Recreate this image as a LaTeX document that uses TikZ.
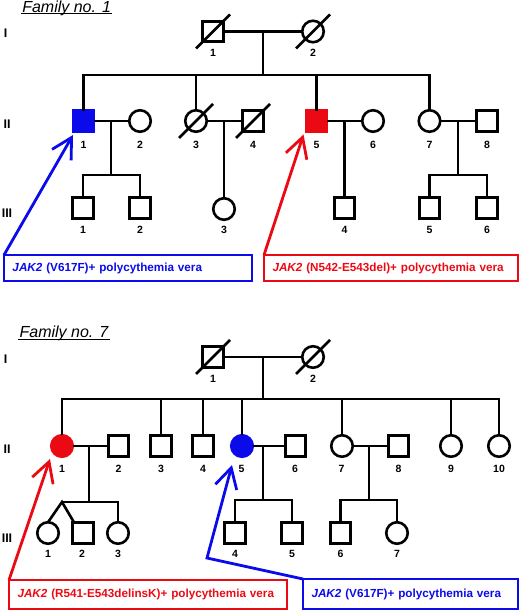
\documentclass[tikz,border=0pt]{standalone}
\usepackage{fontspec}
\setmainfont{Liberation Sans}
\usetikzlibrary{arrows.meta}
\definecolor{pblue}{RGB}{10,10,235}
\definecolor{pred}{RGB}{235,10,20}
\begin{document}
\begin{tikzpicture}[x=1pt,y=-1pt,line width=2.6pt,
  sq/.style={draw,rectangle,minimum size=20.5pt,inner sep=0pt,outer sep=0pt},
  ci/.style={draw,circle,minimum size=21.5pt,inner sep=0pt,outer sep=0pt},
  lab/.style={font=\bfseries\fontsize{10.5}{12}\selectfont,inner sep=0pt},
  gen/.style={font=\bfseries\fontsize{12.5}{14}\selectfont,inner sep=0pt},
  ttl/.style={font=\itshape\fontsize{16}{18}\selectfont,inner sep=0pt,anchor=base west},
  ul/.style={line width=1pt},
  box/.style={draw,line width=2.7pt,anchor=north west,inner xsep=8.5pt,inner ysep=0pt,outer sep=0pt,align=left,font=\bfseries\fontsize{11.7}{14}\selectfont},
  arr/.style={line width=2.8pt,-{Straight Barb[length=20pt,width=22pt]}},
  bluefill/.style={fill=pblue,draw=pblue},
  redfill/.style={fill=pred,draw=pred}]
\useasboundingbox (0,0) rectangle (520,612);

% ---------------- Family no. 1 ----------------
\node[ttl] (t1) at (21,12.3) {Family no. 1};
\draw[ul] ([yshift=-1.6pt]t1.base west) -- ([yshift=-1.6pt]t1.base east);
\node[gen] (g1a) at (5.5,33) {I};
\node[gen] (g1b) at (7,124) {II};
\node[gen] (g1c) at (7,213) {III};

% generation I
\node[sq] (f1i1) at (213,31.5) {};
\node[ci] (f1i2) at (313,31.5) {};
\draw (f1i1) -- (f1i2);
\draw (f1i1.center) ++(-17,17) -- ++(34,-34);
\draw (f1i2.center) ++(-17,17) -- ++(34,-34);
\node[lab] (l1i1) at (213,53) {1};
\node[lab] (l1i2) at (313,53) {2};
\coordinate (f1m0) at (263,31.5);
\coordinate (f1s0) at (263,75);
\draw (f1m0) -- (f1s0);

% generation II
\node[sq,bluefill] (f1ii1) at (83.5,121) {};
\node[ci] (f1ii2) at (140,121) {};
\node[ci] (f1ii3) at (196,121) {};
\node[sq] (f1ii4) at (253,121) {};
\node[sq,redfill] (f1ii5) at (316.5,121) {};
\node[ci] (f1ii6) at (373,121) {};
\node[ci] (f1ii7) at (429.5,121) {};
\node[sq] (f1ii8) at (487,121) {};
\draw (f1ii1.north) |- (f1s0) -| (f1ii7.north);
\draw (f1ii3.north) -- (f1ii3.north |- f1s0);
\draw (f1ii5.north) -- (f1ii5.north |- f1s0);
\draw (f1ii3.center) ++(-17,17) -- ++(34,-34);
\draw (f1ii4.center) ++(-17,17) -- ++(34,-34);
\draw (f1ii1) -- (f1ii2);
\draw (f1ii3) -- (f1ii4);
\draw (f1ii5) -- (f1ii6);
\draw (f1ii7) -- (f1ii8);
\foreach \n/\x in {1/83.5,2/140,3/196,4/253,5/316.5,6/373,7/429.5,8/487}
  \node[lab] (l1ii\n) at (\x,145) {\n};

% generation III
\node[sq] (f1iii1) at (83,208) {};
\node[sq] (f1iii2) at (140,208) {};
\node[ci] (f1iii3) at (224,209) {};
\node[sq] (f1iii4) at (344.5,208) {};
\node[sq] (f1iii5) at (429.5,208) {};
\node[sq] (f1iii6) at (487,208) {};
\coordinate (f1m1) at (111,121);
\coordinate (f1s1) at (111,175);
\draw (f1m1) -- (f1s1);
\draw (f1iii1.north) |- (f1s1) -| (f1iii2.north);
\coordinate (f1m2) at (224,121);
\draw (f1m2) -- (f1iii3.north);
\coordinate (f1m3) at (344.5,121);
\draw (f1m3) -- (f1iii4.north);
\coordinate (f1m4) at (458,121);
\coordinate (f1s4) at (458,175);
\draw (f1m4) -- (f1s4);
\draw (f1iii5.north) |- (f1s4) -| (f1iii6.north);
\foreach \n/\x in {1/83,2/140,3/224,4/344.5,5/429.5,6/487}
  \node[lab] (l1iii\n) at (\x,230) {\n};

% boxes and arrows
\node[box,draw=pblue,text=pblue,text width=231pt,minimum height=26pt] (box1) at (4,255)
  {{\itshape JAK2} (V617F)+ polycythemia vera};
\node[box,draw=pred,text=pred,text width=237pt,minimum height=26pt] (box2) at (264,255)
  {{\itshape JAK2} (N542-E543del)+ polycythemia vera};
\coordinate (tip1) at (73,135);
\coordinate (tip2) at (303.5,134.5);
\draw[arr,pblue] (box1.north west) -- (tip1);
\draw[arr,pred] (box2.north west) -- (tip2);

% ---------------- Family no. 7 ----------------
\node[ttl] (t7) at (18.3,337) {Family no. 7};
\draw[ul] ([yshift=-2pt]t7.base west) -- ([yshift=-2pt]t7.base east);
\node[gen] (g7a) at (5.5,359) {I};
\node[gen] (g7b) at (7,449) {II};
\node[gen] (g7c) at (7,538) {III};

% generation I
\node[sq] (f7i1) at (213,357) {};
\node[ci] (f7i2) at (313,357) {};
\draw (f7i1) -- (f7i2);
\draw (f7i1.center) ++(-17,17) -- ++(34,-34);
\draw (f7i2.center) ++(-17,17) -- ++(34,-34);
\node[lab] (l7i1) at (213,379) {1};
\node[lab] (l7i2) at (313,379) {2};
\coordinate (f7m0) at (263,357);
\coordinate (f7s0) at (263,399);
\draw (f7m0) -- (f7s0);

% generation II
\node[ci,redfill] (f7ii1) at (62,446) {};
\node[sq] (f7ii2) at (118.5,446) {};
\node[sq] (f7ii3) at (161,446) {};
\node[sq] (f7ii4) at (203,446) {};
\node[ci,bluefill] (f7ii5) at (242,446) {};
\node[sq] (f7ii6) at (295.5,446) {};
\node[ci] (f7ii7) at (342,446) {};
\node[sq] (f7ii8) at (398.5,446) {};
\node[ci] (f7ii9) at (451,446) {};
\node[ci] (f7ii10) at (499,446) {};
\draw (f7ii1.north) |- (f7s0) -| (f7ii10.north);
\foreach \n in {3,4,5,7,9}
  \draw (f7ii\n.north) -- (f7ii\n.north |- f7s0);
\draw (f7ii1) -- (f7ii2);
\draw (f7ii5) -- (f7ii6);
\draw (f7ii7) -- (f7ii8);
\foreach \n/\x in {1/62,2/118.5,3/161,4/203,5/241.5,6/295,7/341.5,8/398.5,9/451,10/499}
  \node[lab] (l7ii\n) at (\x,469) {\n};

% generation III
\node[ci] (f7iii1) at (48,533) {};
\node[sq] (f7iii2) at (83,533) {};
\node[ci] (f7iii3) at (118,533) {};
\node[sq] (f7iii4) at (235,533) {};
\node[sq] (f7iii5) at (292,533) {};
\node[sq] (f7iii6) at (340.5,533) {};
\node[ci] (f7iii7) at (397,533) {};
\coordinate (f7m1) at (89,446);
\coordinate (f7s1) at (89,502);
\coordinate (f7tw) at (62,502);
\draw (f7m1) -- (f7s1);
\draw (f7tw) -| (f7iii3.north);
\draw (f7iii1.north) -- (f7tw) -- ([xshift=1.5pt]f7iii2.north west);
\coordinate (f7m2) at (263,446);
\coordinate (f7s2) at (263,500);
\draw (f7m2) -- (f7s2);
\draw (f7iii4.north) |- (f7s2) -| (f7iii5.north);
\coordinate (f7m3) at (369,446);
\coordinate (f7s3) at (369,500);
\draw (f7m3) -- (f7s3);
\draw (f7iii6.north) |- (f7s3) -| (f7iii7.north);
\foreach \n/\x in {1/48,2/82,3/118,4/235,5/292,6/340.5,7/397}
  \node[lab] (l7iii\n) at (\x,554) {\n};

% boxes and arrows
\node[box,draw=pred,text=pred,text width=261pt,minimum height=29pt] (box3) at (9,580)
  {{\itshape JAK2} (R541-E543delinsK)+ polycythemia vera};
\node[box,draw=pblue,text=pblue,text width=198pt,minimum height=30pt] (box4) at (303,579)
  {{\itshape JAK2} (V617F)+ polycythemia vera};
\coordinate (tip3) at (50,459);
\coordinate (bend4) at (207,558);
\coordinate (tip4) at (232,465);
\draw[arr,pred] (box3.north west) -- (tip3);
\draw[arr,pblue] (box4.north west) -- (bend4) -- (tip4);
\end{tikzpicture}
\end{document}
